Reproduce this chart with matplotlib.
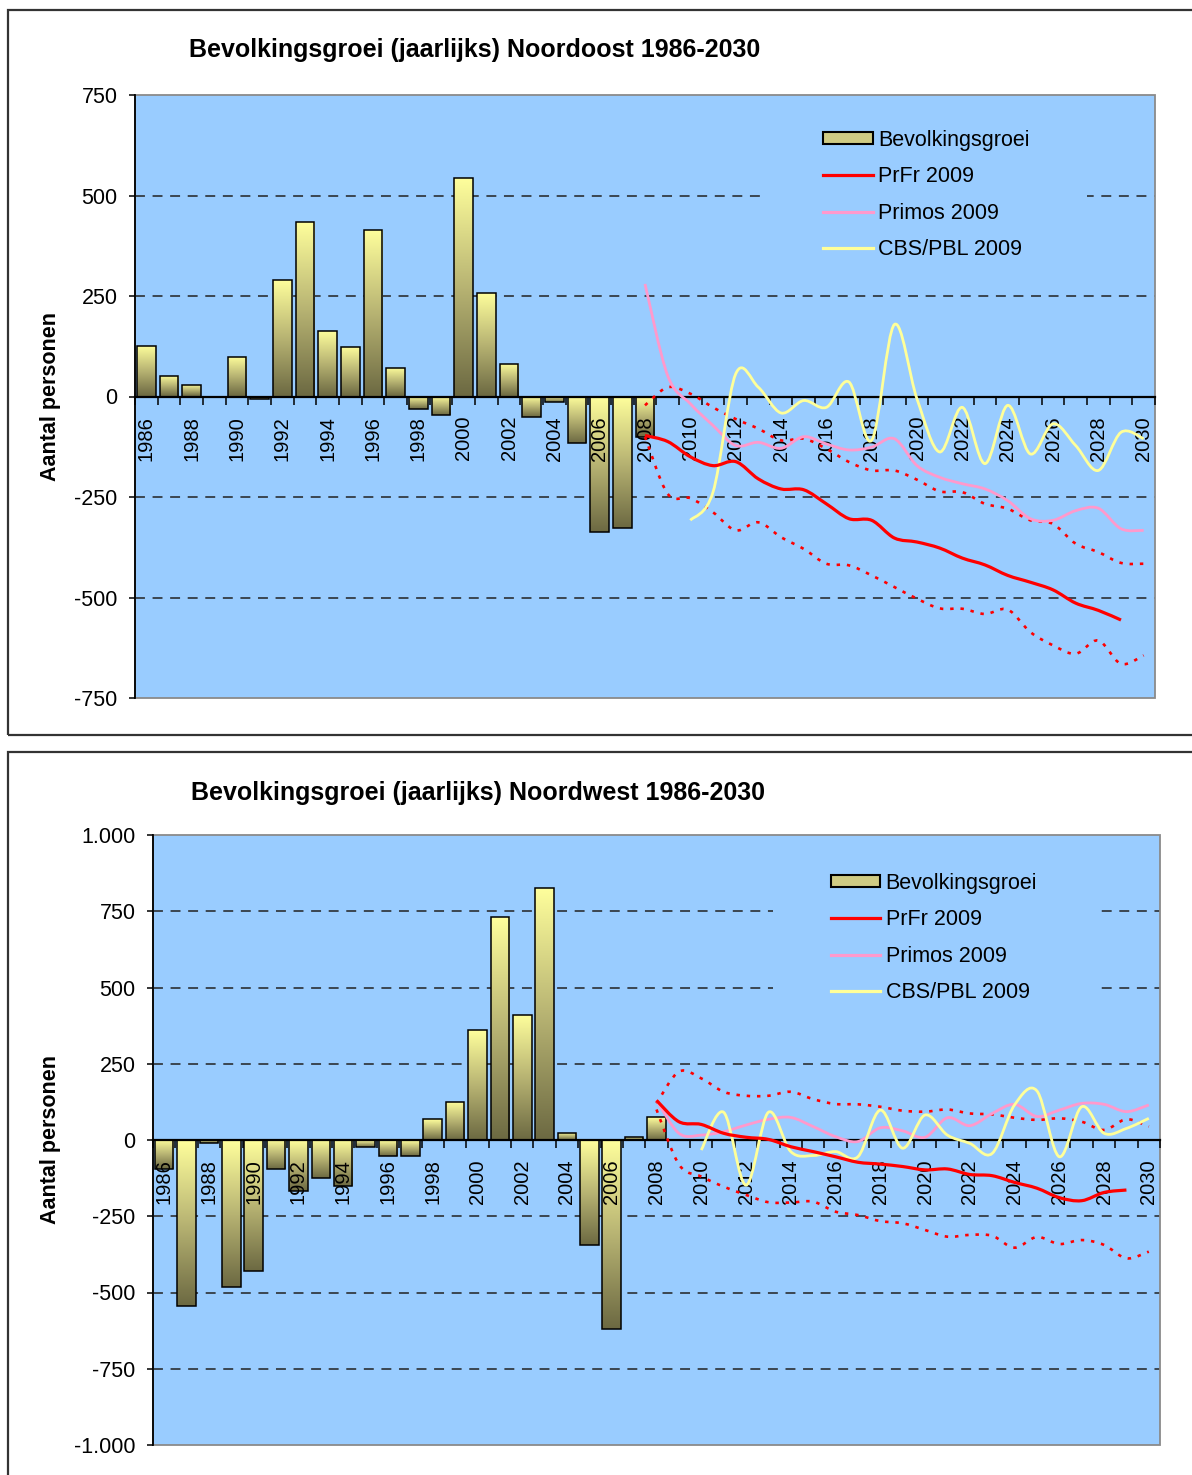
import numpy as np
import matplotlib
matplotlib.use("Agg")
import matplotlib.pyplot as plt
from matplotlib.path import Path
from matplotlib.patches import PathPatch, Rectangle, Patch
from matplotlib.lines import Line2D
from matplotlib.colors import LinearSegmentedColormap

plt.rcParams['font.family'] = ['Liberation Sans', 'DejaVu Sans']

# ---------------- data ----------------
years = list(range(1986, 2031))
hist_years = list(range(1986, 2009))
proj_years = list(range(2008, 2031))
prfr_years = list(range(2008, 2030))
cbs_years = list(range(2010, 2031))

# Noordoost
ne_growth = [125, 50, 29, 0, 99, -5, 289, 435, 162, 124, 414, 72, -32, -45,
             544, 258, 80, -50, -14, -115, -336, -326, -101]
ne_prfr = [-97, -112, -150, -172, -162, -205, -230, -232, -267, -304, -308,
           -352, -362, -377, -402, -419, -445, -462, -481, -514, -532, -556]
ne_prfr_hi = [-22, 23, 7, -27, -56, -80, -109, -105, -130, -163, -184, -184,
              -207, -236, -238, -267, -279, -308, -317, -366, -387, -414, -416]
ne_prfr_lo = [-100, -242, -253, -288, -333, -313, -350, -379, -416, -420, -445,
              -474, -503, -527, -528, -541, -530, -586, -619, -640, -607, -665, -644]
ne_primos = [280, 52, -18, -72, -122, -114, -129, -100, -118, -133, -126, -105,
             -172, -201, -217, -230, -259, -304, -308, -284, -278, -329, -333]
ne_cbs = [-308, -238, 56, 23, -41, -10, -27, 36, -109, 179, -6, -138, -27,
          -167, -22, -143, -68, -122, -184, -89, -105]

# Noordwest
nw_growth = [-96, -543, -11, -481, -428, -96, -166, -126, -151, -22, -52, -51,
             68, 125, 360, 731, 411, 827, 23, -344, -621, 11, 74]
nw_prfr = [130, 60, 51, 22, 9, 2, -22, -38, -55, -73, -79, -87, -98, -95,
           -113, -117, -139, -158, -189, -199, -172, -164]
nw_prfr_hi = [120, 224, 202, 158, 145, 145, 158, 134, 118, 117, 109, 96, 93,
              100, 87, 84, 73, 66, 71, 60, 33, 68, 44]
nw_prfr_lo = [100, -80, -120, -153, -180, -204, -205, -202, -235, -246, -266,
              -273, -295, -317, -311, -314, -353, -318, -341, -328, -344, -388, -366]
nw_primos = [131, 22, 16, 27, 49, 68, 74, 44, 11, -5, 40, 30, 9, 73, 47, 87,
             117, 77, 98, 120, 117, 93, 115]
nw_cbs = [-33, 91, -148, 91, -38, -51, -38, -55, 98, -27, 82, 16, -11, -44,
          115, 161, -55, 109, 22, 38, 71]

ne_yticks = [750, 500, 250, 0, -250, -500, -750]
ne_ylabels = ['750', '500', '250', '0', '-250', '-500', '-750']
nw_yticks = [1000, 750, 500, 250, 0, -250, -500, -750, -1000]
nw_ylabels = ['1.000', '750', '500', '250', '0', '-250', '-500', '-750', '-1.000']

series_names = ['Bevolkingsgroei', 'PrFr 2009', 'Primos 2009', 'CBS/PBL 2009']
titles = ['Bevolkingsgroei (jaarlijks) Noordoost 1986-2030',
          'Bevolkingsgroei (jaarlijks) Noordwest 1986-2030']

# ---------------- styles ----------------
BG = '#99CCFF'
RED = '#FF0000'
PINK = '#FF99CC'
YELLOW = '#FFFF99'
bar_cmap = LinearSegmentedColormap.from_list('barg', ['#6C6942', '#B8B473', '#FFFF9C'])
DOT = (0, (1.3, 2.6))
GRID = (0, (6.5, 5))


def smooth_path(xs, ys):
    pts = np.column_stack([xs, ys]).astype(float)
    n = len(pts)
    verts = [pts[0]]
    codes = [Path.MOVETO]
    for i in range(n - 1):
        p0 = pts[i - 1] if i > 0 else pts[i]
        p1 = pts[i]
        p2 = pts[i + 1]
        p3 = pts[i + 2] if i + 2 < n else pts[i + 1]
        verts += [p1 + (p2 - p0) / 6.0, p2 - (p3 - p1) / 6.0, p2]
        codes += [Path.CURVE4] * 3
    return Path(verts, codes)


def add_curve(ax, yrs, vals, color, lw, ls='-'):
    xs = [years.index(y) for y in yrs]
    pp = PathPatch(smooth_path(xs, vals), fill=False, edgecolor=color, lw=lw,
                   linestyle=ls, zorder=3, capstyle='butt', joinstyle='round')
    ax.add_patch(pp)


def draw_chart(ax, growth, prfr, hi, lo, primos, cbs, lim, yticks, ylabels,
               gridvals, gap_rect, leg_anchor):
    ax.set_facecolor(BG)
    xs = [years.index(y) for y in hist_years]
    bars = ax.bar(xs, growth, width=0.83, facecolor='none', edgecolor='black',
                  linewidth=1.1, zorder=1.2)
    grad = np.linspace(0, 1, 256).reshape(-1, 1)
    for b in bars:
        h = b.get_height()
        if h == 0:
            continue
        x0 = b.get_x()
        y0 = b.get_y()
        im = ax.imshow(grad, cmap=bar_cmap, origin='lower', aspect='auto',
                       extent=[x0, x0 + b.get_width(), min(y0, y0 + h), max(y0, y0 + h)],
                       zorder=1.0, interpolation='bilinear')
        im.set_clip_path(b)

    # gridlines (behind bars)
    for g in gridvals:
        ax.axhline(g, color='#222222', lw=1.1, linestyle=GRID, zorder=0.5)
    # area behind legend hides gridlines
    ax.add_patch(Rectangle((gap_rect[0], gap_rect[1]), gap_rect[2], gap_rect[3],
                           transform=ax.transAxes, facecolor=BG, edgecolor='none',
                           zorder=0.55))

    add_curve(ax, proj_years, hi, RED, 1.9, DOT)
    add_curve(ax, proj_years, lo, RED, 1.9, DOT)
    add_curve(ax, proj_years, primos, PINK, 2.0)
    add_curve(ax, cbs_years, cbs, YELLOW, 2.0)
    add_curve(ax, prfr_years, prfr, RED, 2.3)

    ax.set_xlim(-0.5, len(years) - 0.5)
    ax.set_ylim(-lim, lim)

    # plot area border
    ax.add_patch(Rectangle((0, 0), 1, 1, transform=ax.transAxes, fill=False,
                           edgecolor='#8A8A8A', lw=1.3, zorder=0.6, clip_on=False))
    for s in ['top', 'right']:
        ax.spines[s].set_visible(False)
    ax.spines['left'].set_linewidth(1.3)
    ax.spines['bottom'].set_position(('data', 0))
    ax.spines['bottom'].set_linewidth(1.6)
    ax.spines['bottom'].set_zorder(2.5)

    ax.set_yticks(yticks, ylabels)
    ax.tick_params(axis='y', direction='out', length=4.5, width=1.1, pad=8,
                   labelsize=15.5, colors='black')

    maj = [years.index(y) for y in years[::2]]
    ax.set_xticks(maj, [str(y) for y in years[::2]], rotation=90)
    ax.set_xticks([i - 0.5 for i in range(len(years) + 1)], minor=True)
    ax.tick_params(axis='x', which='major', length=0, pad=14, labelsize=14.5)
    ax.tick_params(axis='x', which='minor', direction='out', length=6, width=1.1)
    ax.xaxis.set_zorder(1.5)

    ax.set_ylabel('Aantal personen', fontsize=15.5, fontweight='bold')

    handles = [Patch(facecolor='#CFCB84', edgecolor='black', linewidth=1.5),
               Line2D([], [], color=RED, lw=2.3),
               Line2D([], [], color=PINK, lw=2.3),
               Line2D([], [], color=YELLOW, lw=2.3)]
    leg = ax.legend(handles, series_names, loc='upper left', bbox_to_anchor=leg_anchor,
                    frameon=False, borderpad=0, borderaxespad=0, fontsize=15.5,
                    handlelength=2.3, handleheight=0.5, handletextpad=0.25,
                    labelspacing=0.72)
    leg.set_zorder(5)


fig = plt.figure(figsize=(11.92, 14.75), dpi=100)
W, H = 1192.0, 1475.0

# outer frames
fig.patches.append(Rectangle((8 / W, 1 - 735 / H), 1.2, (735 - 10) / H,
                             transform=fig.transFigure, fill=False,
                             edgecolor='#333333', lw=1.6))
fig.patches.append(Rectangle((8 / W, -0.02), 1.2, 1 - 752 / H + 0.02,
                             transform=fig.transFigure, fill=False,
                             edgecolor='#333333', lw=1.6))

ax1 = fig.add_axes([135 / W, 1 - 698 / H, 1020 / W, 603 / H])
draw_chart(ax1, ne_growth, ne_prfr, ne_prfr_hi, ne_prfr_lo, ne_primos, ne_cbs,
           750, ne_yticks, ne_ylabels, [500, 250, -250, -500],
           (0.618, 0.71, 0.315, 0.265), (0.6745, 0.9424))
ax1.yaxis.set_label_coords(-0.0725, 0.5)

ax2 = fig.add_axes([153 / W, 1 - 1445 / H, 1007 / W, 610 / H])
draw_chart(ax2, nw_growth, nw_prfr, nw_prfr_hi, nw_prfr_lo, nw_primos, nw_cbs,
           1000, nw_yticks, nw_ylabels, [750, 500, 250, -250, -500, -750],
           (0.616, 0.705, 0.324, 0.254), (0.673, 0.9384))
ax2.yaxis.set_label_coords(-0.0914, 0.5)

fig.text(475 / W, 1 - 50 / H, titles[0], ha='center', va='center',
         fontsize=18, fontweight='bold')
fig.text(478 / W, 1 - 793 / H, titles[1], ha='center', va='center',
         fontsize=18, fontweight='bold')

fig.savefig('out.png', dpi=100)
